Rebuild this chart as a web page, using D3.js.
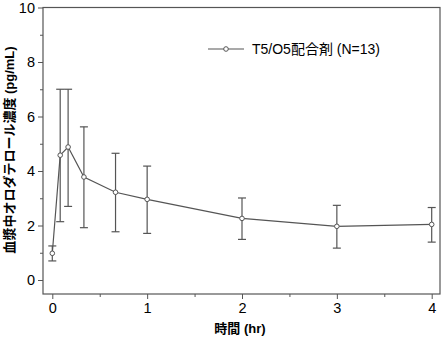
<!DOCTYPE html>
<html><head><meta charset="utf-8">
<script src="https://cdn.jsdelivr.net/npm/d3@7"></script>
<style>
html,body{margin:0;padding:0;background:#fff;}
svg{display:block;font-family:"Liberation Sans",Arial,sans-serif;}
</style></head>
<body>
<script>
const times = [0, 0.0833, 0.1667, 0.3333, 0.6667, 1, 2, 3, 4];
const means = [0.98, 4.58, 4.88, 3.78, 3.22, 2.96, 2.26, 1.97, 2.04];
const upper = [1.25, 7.0, 7.0, 5.62, 4.65, 4.18, 3.01, 2.74, 2.66];
const lower = [0.70, 2.14, 2.70, 1.92, 1.77, 1.71, 1.49, 1.17, 1.39];
const xTicks = [0, 1, 2, 3, 4];
const yTicks = [0, 2, 4, 6, 8, 10];
const seriesName = "T5/O5配合剤 (N=13)";
const yLabel = "血漿中オロダテロール濃度 (pg/mL)";
const xLabel = "時間 (hr)";

const W = 443, H = 340;
const frame = {left: 43, right: 440, top: 7.5, bottom: 294};
const col = "#555";
const fontMix = "'Liberation Sans', 'Noto Sans CJK JP', sans-serif";
const svg = d3.select("body").append("svg").attr("width", W).attr("height", H);

const x = d3.scaleLinear().domain([0, 4]).range([52.3, 431.7]);
const y = d3.scaleLinear().domain([0, 10]).range([280, 7.5]);

// frame
svg.append("rect").attr("x", frame.left).attr("y", frame.top)
  .attr("width", frame.right - frame.left).attr("height", frame.bottom - frame.top)
  .attr("fill", "none").attr("stroke", col).attr("stroke-width", 1.2);

// y axis
const yAxis = svg.append("g").attr("transform", `translate(${frame.left},0)`)
  .call(d3.axisLeft(y).tickValues(yTicks).tickSize(5).tickPadding(3).tickFormat(d3.format("d")));
yAxis.select(".domain").remove();
yAxis.selectAll("line").attr("stroke", col);
yAxis.selectAll("text").attr("font-size", 14.5).attr("fill", "#000").attr("font-family", "Liberation Sans, Arial, sans-serif");
const yMinor = svg.append("g").attr("transform", `translate(${frame.left},0)`)
  .call(d3.axisLeft(y).tickValues([1,3,5,7,9]).tickSize(3).tickFormat(""));
yMinor.select(".domain").remove();
yMinor.selectAll("line").attr("stroke", col);

// x axis
const xAxis = svg.append("g").attr("transform", `translate(0,${frame.bottom})`)
  .call(d3.axisBottom(x).tickValues(xTicks).tickSize(5).tickPadding(4).tickFormat(d3.format("d")));
xAxis.select(".domain").remove();
xAxis.selectAll("line").attr("stroke", col);
xAxis.selectAll("text").attr("font-size", 14.5).attr("fill", "#000").attr("font-family", "Liberation Sans, Arial, sans-serif");
const xMinor = svg.append("g").attr("transform", `translate(0,${frame.bottom})`)
  .call(d3.axisBottom(x).tickValues([0.5,1.5,2.5,3.5]).tickSize(3).tickFormat(""));
xMinor.select(".domain").remove();
xMinor.selectAll("line").attr("stroke", col);

const data = times.map((t, i) => ({t, m: means[i], u: upper[i], l: lower[i]}));

// error bars
const eb = svg.append("g").attr("stroke", col).attr("stroke-width", 1.2);
data.forEach(d => {
  eb.append("line").attr("x1", x(d.t)).attr("x2", x(d.t)).attr("y1", y(d.u)).attr("y2", y(d.l));
  eb.append("line").attr("x1", x(d.t) - 4).attr("x2", x(d.t) + 4).attr("y1", y(d.u)).attr("y2", y(d.u));
  eb.append("line").attr("x1", x(d.t) - 4).attr("x2", x(d.t) + 4).attr("y1", y(d.l)).attr("y2", y(d.l));
});

// line
svg.append("path").datum(data)
  .attr("d", d3.line().x(d => x(d.t)).y(d => y(d.m)))
  .attr("fill", "none").attr("stroke", col).attr("stroke-width", 1.2);

svg.append("g").selectAll("circle").data(data).join("circle")
  .attr("cx", d => x(d.t)).attr("cy", d => y(d.m)).attr("r", 2.3)
  .attr("fill", "#fff").attr("stroke", col).attr("stroke-width", 1);

// legend
svg.append("line").attr("x1", 208).attr("x2", 244).attr("y1", 49).attr("y2", 49)
  .attr("stroke", col).attr("stroke-width", 1.2);
svg.append("circle").attr("cx", 226).attr("cy", 49).attr("r", 2.3)
  .attr("fill", "#fff").attr("stroke", col).attr("stroke-width", 1);
svg.append("text").attr("x", 252).attr("y", 54).attr("font-size", 14)
  .attr("font-family", fontMix).attr("fill", "#000").text(seriesName);

// axis labels
svg.append("text").attr("x", 240).attr("y", 333).attr("text-anchor", "middle")
  .attr("font-size", 13).attr("font-weight", "bold")
  .attr("font-family", fontMix).text(xLabel);
svg.append("text").attr("transform", "translate(14,150) rotate(-90)").attr("text-anchor", "middle")
  .attr("font-size", 13).attr("font-weight", "bold")
  .attr("font-family", fontMix).text(yLabel);
</script>
</body></html>
